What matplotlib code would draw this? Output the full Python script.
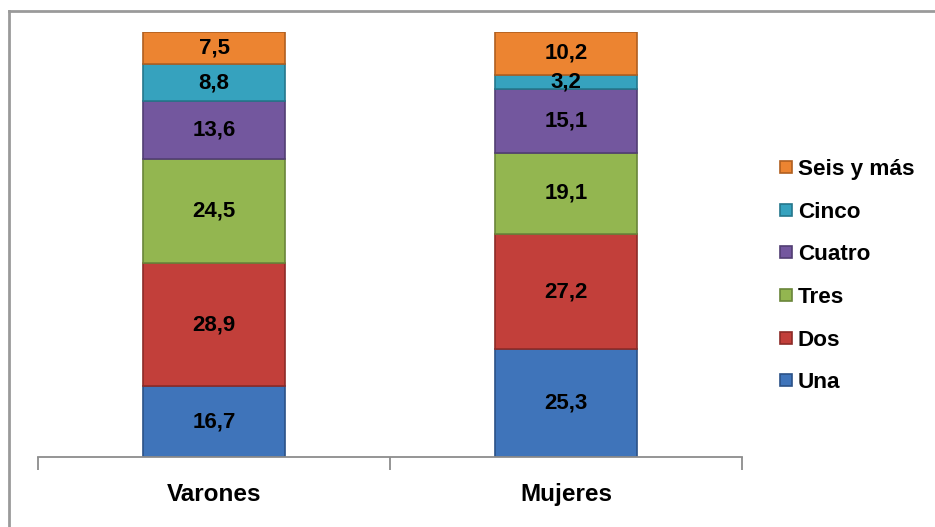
import matplotlib.pyplot as plt
import matplotlib.lines as mlines
import numpy as np

plt.rcParams['font.family'] = ['Liberation Sans', 'DejaVu Sans']

groups = ["Varones", "Mujeres"]
series = ["Una", "Dos", "Tres", "Cuatro", "Cinco", "Seis y más"]
values = {
    "Una": [16.7, 25.3],
    "Dos": [28.9, 27.2],
    "Tres": [24.5, 19.1],
    "Cuatro": [13.6, 15.1],
    "Cinco": [8.8, 3.2],
    "Seis y más": [7.5, 10.2],
}
labels = {
    "Una": ["16,7", "25,3"],
    "Dos": ["28,9", "27,2"],
    "Tres": ["24,5", "19,1"],
    "Cuatro": ["13,6", "15,1"],
    "Cinco": ["8,8", "3,2"],
    "Seis y más": ["7,5", "10,2"],
}
colors = {
    "Una": "#3F74BA",
    "Dos": "#C23F3A",
    "Tres": "#93B650",
    "Cuatro": "#73579E",
    "Cinco": "#36A2BE",
    "Seis y más": "#EC8431",
}
edges = {
    "Una": "#2B5287",
    "Dos": "#8C2B27",
    "Tres": "#6A853A",
    "Cuatro": "#523E73",
    "Cinco": "#25778C",
    "Seis y más": "#B05F20",
}

fig = plt.figure(figsize=(9.35, 5.27), dpi=100)
ax = fig.add_axes([38/935, 1-457/527, (742-38)/935, (457-32)/527])

x = np.arange(len(groups))
bottom = np.zeros(len(groups))
handles = []
for s in series:
    v = np.array(values[s])
    b = ax.bar(x, v, 0.405, bottom=bottom, color=colors[s], edgecolor=edges[s],
               linewidth=1.2, label=s)
    handles.append(b)
    for i in range(len(groups)):
        ax.text(x[i], bottom[i] + v[i] / 2, labels[s][i], ha='center', va='center',
                fontsize=16, fontweight='bold', color='black')
    bottom += v

ax.set_xlim(-0.5, 1.5)
ax.set_ylim(0, 100)
for sp in ['top', 'right', 'left']:
    ax.spines[sp].set_visible(False)
ax.spines['bottom'].set_color('#8C8C8C')
ax.spines['bottom'].set_linewidth(1.3)
ax.set_yticks([])
ax.set_xticks([-0.5, 0.5, 1.5])
ax.set_xticklabels([])
ax.tick_params(axis='x', length=9, color='#8C8C8C', width=1.3)
for i, g in enumerate(groups):
    ax.text(x[i], -8.8, g, ha='center', va='center', fontsize=17.5, fontweight='bold',
            transform=ax.transData, clip_on=False)

leg = fig.legend(handles[::-1], series[::-1], loc='upper left',
                 bbox_to_anchor=(769/935, 1-148/527), frameon=False, borderpad=0,
                 prop={'size': 16.2, 'weight': 'bold'}, handlelength=0.5,
                 handleheight=0.45, handletextpad=0.28, labelspacing=0.96)

# outer frame (only top and left visible)
fig.add_artist(mlines.Line2D([9/935, 1], [1-11/527, 1-11/527], color='#9A9A9A', lw=2))
fig.add_artist(mlines.Line2D([9/935, 9/935], [0, 1-11/527], color='#9A9A9A', lw=2))

fig.savefig("out.png", dpi=100)
